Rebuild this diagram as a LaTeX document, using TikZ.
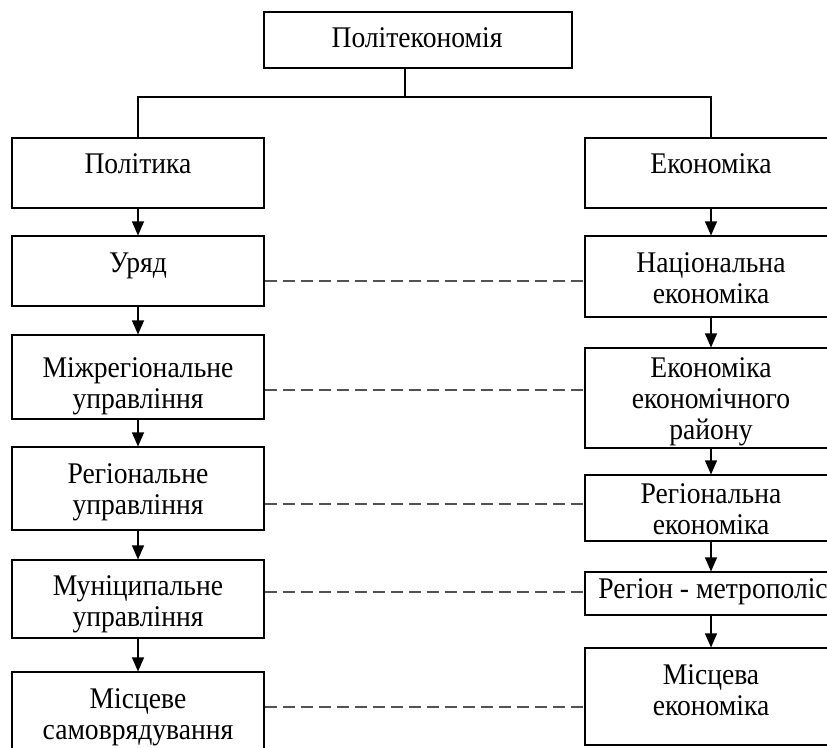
\documentclass[tikz,border=0pt]{standalone}
\usepackage{fontspec}
\setmainfont{Liberation Serif}[FakeStretch=0.92]
\usetikzlibrary{arrows.meta}
\newcommand\mlines[1]{\begin{tabular}[t]{@{}c@{}}#1\end{tabular}}
\tikzset{
  box/.style={draw=black, line width=1.1pt, inner sep=0pt, minimum width=252pt},
  txt/.style={inner sep=0pt, font=\fontsize{30}{31}\selectfont, anchor=base},
  arr/.style={line width=1.1pt, -{Triangle[width=12pt,length=14pt]}},
  link/.style={line width=1.1pt},
  dashline/.style={draw=black!68, line width=2pt, dash pattern=on 12pt off 6pt},
}
\begin{document}
\begin{tikzpicture}[x=1pt,y=-1pt]
\useasboundingbox (0,0) rectangle (827,747);
\clip (0,0) rectangle (827,747);

% top
\node[box, minimum width=308pt, minimum height=56pt] (top) at (418,40) {};
\node[txt] (ttop) at (417,47) {Політекономія};

% left column
\node[box, minimum height=70pt] (L1) at (138,173) {};
\node[box, minimum height=70pt] (L2) at (138,271) {};
\node[box, minimum height=84pt] (L3) at (138,377) {};
\node[box, minimum height=83pt] (L4) at (138,488.5) {};
\node[box, minimum height=78pt] (L5) at (138,599) {};
\node[box, minimum height=90pt] (L6) at (138,717) {};

\node[txt] (tL1) at (138,173) {Політика};
\node[txt] (tL2) at (138,272) {Уряд};
\node[txt] (tL3) at (138,377) {\mlines{Міжрегіональне\\управління}};
\node[txt] (tL4) at (138,483) {\mlines{Регіональне\\управління}};
\node[txt] (tL5) at (138,595) {\mlines{Муніципальне\\управління}};
\node[txt] (tL6) at (138,708) {\mlines{Місцеве\\самоврядування}};

% right column
\node[box, minimum height=70pt] (R1) at (711,173) {};
\node[box, minimum height=81pt] (R2) at (711,276.5) {};
\node[box, minimum height=100pt] (R3) at (711,398) {};
\node[box, minimum height=66pt] (R4) at (711,508) {};
\node[box, minimum height=43pt] (R5) at (711,593.5) {};
\node[box, minimum height=97pt] (R6) at (711,696.5) {};

\node[txt] (tR1) at (711,173) {Економіка};
\node[txt] (tR2) at (711,272) {\mlines{Національна\\економіка}};
\node[txt] (tR3) at (711,377) {\mlines{Економіка\\економічного\\району}};
\node[txt] (tR4) at (711,503) {\mlines{Регіональна\\економіка}};
\node[txt] (tR5) at (713,598) {Регіон - метрополіс};
\node[txt] (tR6) at (711,684) {\mlines{Місцева\\економіка}};

% tree connector
\coordinate (jc) at (405,97);
\draw[link] (jc |- top.south) -- (jc);
\draw[link] (L1.north) -- (L1.north |- jc) -- (R1.north |- jc) -- (R1.north);

% arrows
\draw[arr] (L1) -- (L2);
\draw[arr] (L2) -- (L3);
\draw[arr] (L3) -- (L4);
\draw[arr] (L4) -- (L5);
\draw[arr] (L5) -- (L6);
\draw[arr] (R1) -- (R2);
\draw[arr] (R2) -- (R3);
\draw[arr] (R3) -- (R4);
\draw[arr] (R4) -- (R5);
\draw[arr] (R5) -- (R6);

% dashed links
\draw[dashline] ([yshift=-10pt]L2.east) -- ([yshift=-4.5pt]R2.west);
\draw[dashline] ([yshift=-13pt]L3.east) -- ([yshift=8pt]R3.west);
\draw[dashline] ([yshift=-15.5pt]L4.east) -- ([yshift=4pt]R4.west);
\draw[dashline] ([yshift=7pt]L5.east) -- ([yshift=1.5pt]R5.west);
\draw[dashline] ([yshift=10pt]L6.east) -- ([yshift=-10.5pt]R6.west);
\end{tikzpicture}
\end{document}
